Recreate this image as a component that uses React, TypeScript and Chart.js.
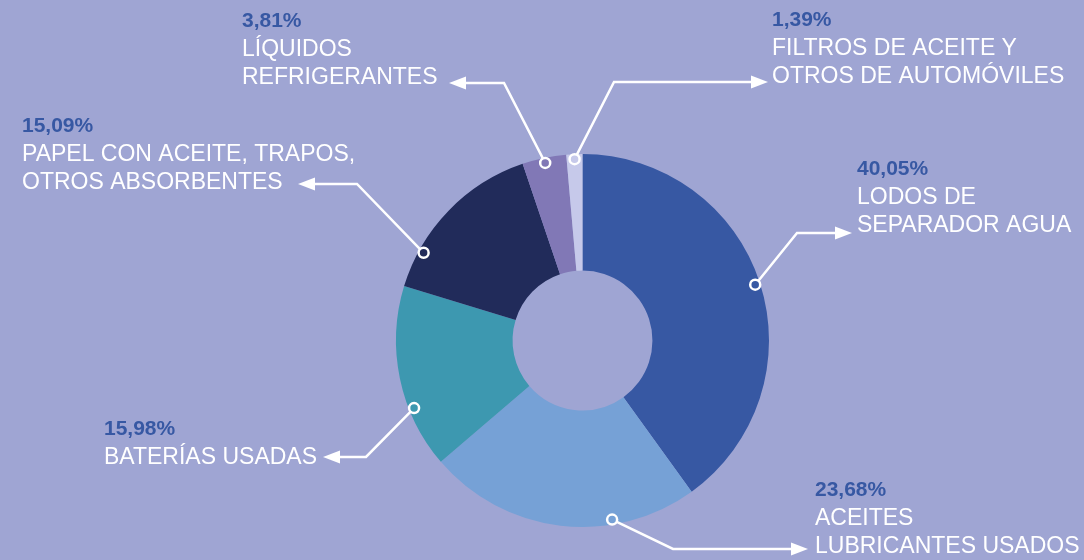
import React, { useEffect, useRef } from "react";
import { Chart, registerables } from "chart.js";

Chart.register(...registerables);

// ---- data ----
const categories: string[][] = [
  ["LODOS DE", "SEPARADOR AGUA"],
  ["ACEITES", "LUBRICANTES USADOS"],
  ["BATERÍAS USADAS"],
  ["PAPEL CON ACEITE, TRAPOS,", "OTROS ABSORBENTES"],
  ["LÍQUIDOS", "REFRIGERANTES"],
  ["FILTROS DE ACEITE Y", "OTROS DE AUTOMÓVILES"],
];
const values: number[] = [40.05, 23.68, 15.98, 15.09, 3.81, 1.39];
const colors: string[] = ["#3758A3", "#76A1D6", "#3D98B0", "#212B5A", "#8178B6", "#C6C9EA"];

// ---- layout for annotations (not data) ----
const dotFrac = [0.5, 0.31, 0.325, 0.22, 0.5, 0.5];
const leaders = [
  { elbowX: 797, lineY: 233, tipX: 852 },
  { elbowX: 673, lineY: 549, tipX: 808 },
  { elbowX: 366, lineY: 457, tipX: 323 },
  { elbowX: 357, lineY: 184, tipX: 298 },
  { elbowX: 504, lineY: 83, tipX: 449 },
  { elbowX: 614, lineY: 82, tipX: 768 },
];
const textPos = [
  { x: 857, y: 175 },
  { x: 815, y: 496 },
  { x: 104, y: 435 },
  { x: 22, y: 132 },
  { x: 242, y: 27 },
  { x: 772, y: 26 },
];

const BG = "#9FA5D3";
const PCT_COLOR = "#3758A3";

const annotPlugin = {
  id: "annot",
  afterDraw(chart: any) {
    const ctx = chart.ctx as CanvasRenderingContext2D;
    const arcs = chart.getDatasetMeta(0).data;
    ctx.save();
    arcs.forEach((arc: any, i: number) => {
      const p = arc.getProps(["x", "y", "startAngle", "endAngle", "outerRadius"], true);
      const a = p.startAngle + dotFrac[i] * (p.endAngle - p.startAngle);
      const r = p.outerRadius - 5;
      const dx = p.x + Math.cos(a) * r;
      const dy = p.y + Math.sin(a) * r;
      const L = leaders[i];
      const dir = L.tipX > L.elbowX ? 1 : -1;
      const headLen = 17;
      // line
      ctx.strokeStyle = "#ffffff";
      ctx.lineWidth = 2.5;
      ctx.lineJoin = "miter";
      ctx.beginPath();
      ctx.moveTo(dx, dy);
      ctx.lineTo(L.elbowX, L.lineY);
      ctx.lineTo(L.tipX - dir * headLen, L.lineY);
      ctx.stroke();
      // arrow head
      ctx.fillStyle = "#ffffff";
      ctx.beginPath();
      ctx.moveTo(L.tipX, L.lineY);
      ctx.lineTo(L.tipX - dir * headLen, L.lineY - 6.5);
      ctx.lineTo(L.tipX - dir * headLen, L.lineY + 6.5);
      ctx.closePath();
      ctx.fill();
      // dot
      ctx.beginPath();
      ctx.arc(dx, dy, 5, 0, Math.PI * 2);
      ctx.fillStyle = colors[i];
      ctx.fill();
      ctx.lineWidth = 2.5;
      ctx.strokeStyle = "#ffffff";
      ctx.stroke();
      // text
      const t = textPos[i];
      ctx.textAlign = "left";
      ctx.textBaseline = "alphabetic";
      ctx.fillStyle = PCT_COLOR;
      ctx.font = "bold 21px 'Liberation Sans', Arial, sans-serif";
      ctx.fillText(values[i].toFixed(2).replace(".", ",") + "%", t.x, t.y);
      ctx.fillStyle = "#ffffff";
      ctx.font = "23px 'Liberation Sans', Arial, sans-serif";
      categories[i].forEach((line, k) => {
        ctx.fillText(line, t.x, t.y + 28.5 * (k + 1));
      });
    });
    ctx.restore();
  },
};

export default function App() {
  const ref = useRef<HTMLCanvasElement>(null);
  useEffect(() => {
    if (!ref.current) return;
    const chart = new Chart(ref.current, {
      type: "doughnut",
      data: {
        labels: categories.map((c) => c.join(" ")),
        datasets: [
          {
            data: values,
            backgroundColor: colors,
            borderWidth: 0,
          },
        ],
      },
      options: {
        animation: false,
        responsive: false,
        cutout: "37.5%",
        layout: { padding: { left: 396, right: 315, top: 154, bottom: 33 } },
        plugins: {
          legend: { display: false },
          tooltip: { enabled: false },
        },
      },
      plugins: [annotPlugin],
    });
    return () => chart.destroy();
  }, []);
  return (
    <div
      style={{
        position: "fixed",
        left: 0,
        top: 0,
        width: 1084,
        height: 560,
        background: BG,
        overflow: "hidden",
      }}
    >
      <canvas ref={ref} width={1084} height={560} style={{ display: "block", width: 1084, height: 560 }} />
    </div>
  );
}
